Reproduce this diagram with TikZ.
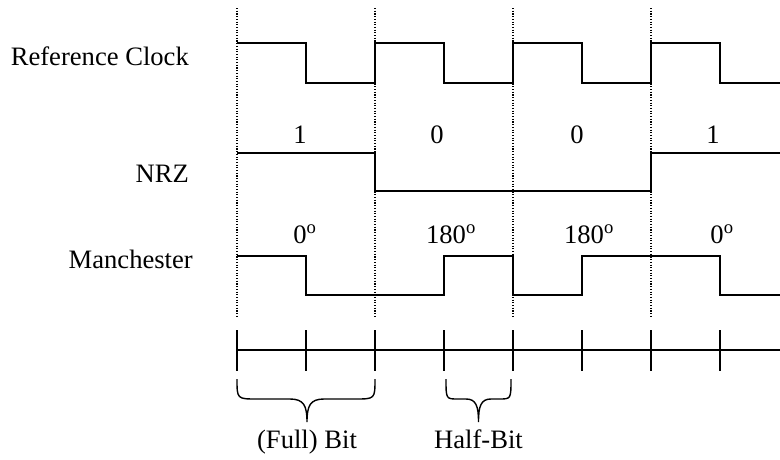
\documentclass[tikz,border=0pt]{standalone}
\usepackage{fontspec}
\setmainfont{Liberation Serif}
\begin{document}
\begin{tikzpicture}[x=1pt,y=-1pt,
  lbl/.style={font=\fontsize{26.6}{30}\selectfont, inner sep=0pt},
  sig/.style={line width=2pt, line join=miter},
  guide/.style={line width=1.1pt, dash pattern=on 1.1pt off 1.6pt},
  axis/.style={line width=1.3pt},
  tick/.style={line width=2pt},
  brace/.style={line width=1.4pt}]
\useasboundingbox (0,0) rectangle (780,459);
\fill[white] (0,0) rectangle (780,459);
% guides
\foreach \x in {237,375,513,651}
  \draw[guide] (\x,8) -- (\x,318);
% row labels
\node[lbl, anchor=base east] (rc) at (189,65) {Reference Clock};
\node[lbl, anchor=base east] (nrz) at (189,182) {NRZ};
\node[lbl, anchor=base east] (man) at (193,268) {Manchester};
% clock
\draw[sig] (237,43) -- (306,43) -- (306,83) -- (375,83) -- (375,43) -- (444,43) -- (444,83)
  -- (513,83) -- (513,43) -- (582,43) -- (582,83) -- (651,83) -- (651,43) -- (720,43)
  -- (720,83) -- (780,83);
% NRZ
\draw[sig] (237,153) -- (375,153) -- (375,191) -- (651,191) -- (651,153) -- (780,153);
% Manchester
\draw[sig] (237,256) -- (306,256) -- (306,295) -- (444,295) -- (444,256) -- (513,256)
  -- (513,295) -- (582,295) -- (582,256) -- (720,256) -- (720,295) -- (780,295);
% bit labels
\node[lbl, anchor=base] (b1) at (300,143) {1};
\node[lbl, anchor=base] (b2) at (437,143) {0};
\node[lbl, anchor=base] (b3) at (577,143) {0};
\node[lbl, anchor=base] (b4) at (713,143) {1};
% phase labels
\node[lbl, anchor=base] (p1) at (305,243) {0\textsuperscript{o}};
\node[lbl, anchor=base] (p2) at (451,243) {180\textsuperscript{o}};
\node[lbl, anchor=base] (p3) at (589,243) {180\textsuperscript{o}};
\node[lbl, anchor=base] (p4) at (722,243) {0\textsuperscript{o}};
% timeline
\coordinate (t0) at (237,350);
\coordinate (t1) at (780,350);
\draw[axis] (t0) -- (t1);
\foreach \x in {237,306,375,444,513,582,651,720}
  \draw[tick] (\x,330) -- (\x,371);
% braces
\draw[brace] (237,379) .. controls (237,399) .. (257,399) -- (290,399)
  .. controls (304,399) and (307,406) .. (307,422)
  .. controls (307,406) and (310,399) .. (324,399) -- (355,399)
  .. controls (375,399) .. (375,379);
\draw[brace] (446,379) .. controls (446,399) .. (458,399) -- (466,399)
  .. controls (476,399) and (478.5,406) .. (478.5,422)
  .. controls (478.5,406) and (481,399) .. (491,399) -- (499,399)
  .. controls (511,399) .. (511,379);
\node[lbl, anchor=base] (fb) at (307,448) {(Full) Bit};
\node[lbl, anchor=base] (hb) at (478.5,448) {Half-Bit};
\end{tikzpicture}
\end{document}
